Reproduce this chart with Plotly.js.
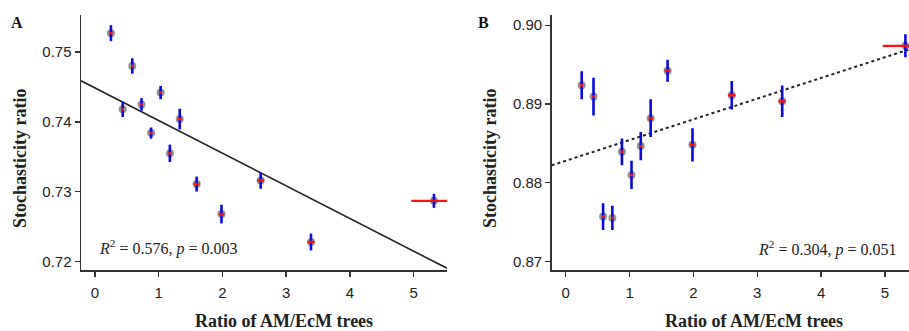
<!DOCTYPE html>
<html>
<head>
<meta charset="utf-8">
<script src="https://cdn.plot.ly/plotly-3.0.1.min.js"></script>
<style>html,body{margin:0;padding:0;background:#fff;}#chart{width:909px;height:331px;}</style>
</head>
<body>
<div id="chart"></div>
<script>
// Shared x values (ratio of AM/EcM trees) and their horizontal errors
const ratio    = [0.25, 0.435, 0.585, 0.73, 0.88, 1.03, 1.175, 1.33, 1.595, 1.985, 2.60, 3.39, 5.32];
const ratioErr = [0.025, 0.02, 0.02, 0.02, 0.02, 0.02, 0.025, 0.035, 0.045, 0.045, 0.055, 0.055, 0.356];

// Panel A
const stochA    = [0.7527, 0.7418, 0.7480, 0.7425, 0.7384, 0.7442, 0.7355, 0.7404, 0.7311, 0.7268, 0.7316, 0.7228, 0.7287];
const stochAErr = [0.00114, 0.0011, 0.0011, 0.0009, 0.0008, 0.00095, 0.00124, 0.00148, 0.00107, 0.00133, 0.00117, 0.0012, 0.001];
const fitA = {intercept: 0.74486, slope: -0.004672};

// Panel B
const stochB    = [0.89237, 0.89094, 0.87569, 0.87552, 0.88392, 0.88098, 0.88464, 0.88819, 0.89423, 0.8848, 0.8911, 0.89034, 0.89738];
const stochBErr = [0.00177, 0.0024, 0.0017, 0.00154, 0.0017, 0.0018, 0.0018, 0.0024, 0.0014, 0.0021, 0.0018, 0.002, 0.00146];
const fitB = {intercept: 0.88278, slope: 0.002631};

const xTicks = [0, 1, 2, 3, 4, 5];
const yTicksA = [0.72, 0.73, 0.74, 0.75];
const yTicksB = [0.87, 0.88, 0.89, 0.90];

const xRangeA = [-0.22, 5.525], yRangeA = [0.7188, 0.7553];
const xRangeB = [-0.22, 5.376], yRangeB = [0.8689, 0.9013];

const grey = 'rgba(105,105,105,0.72)';
const blue = '#0a0adc';
const red = '#ff1010';

function panelTraces(ys, yerr, fit, xr, xa, ya, dash) {
  return [
    {x: [xr[0], xr[1]], y: [fit.intercept + fit.slope * xr[0], fit.intercept + fit.slope * xr[1]],
     mode: 'lines', line: {color: '#222', width: dash ? 2 : 1.6, dash: dash ? '3px,3px' : 'solid'},
     xaxis: xa, yaxis: ya, hoverinfo: 'skip'},
    {x: ratio, y: ys, mode: 'markers', marker: {color: grey, size: 8},
     xaxis: xa, yaxis: ya},
    {x: ratio, y: ys, mode: 'markers', marker: {color: 'rgba(0,0,0,0)', size: 1},
     error_y: {type: 'data', array: yerr, visible: true, color: blue, thickness: 2.6, width: 0},
     xaxis: xa, yaxis: ya},
    {x: ratio, y: ys, mode: 'markers', marker: {color: 'rgba(0,0,0,0)', size: 1},
     error_x: {type: 'data', array: ratioErr, visible: true, color: red, thickness: 2.4, width: 0},
     xaxis: xa, yaxis: ya}
  ];
}

const data = [].concat(
  panelTraces(stochA, stochAErr, fitA, xRangeA, 'x', 'y', false),
  panelTraces(stochB, stochBErr, fitB, xRangeB, 'x2', 'y2', true)
);

const W = 909, H = 331;
const tickFont = {family: 'Liberation Sans, Arial, sans-serif', size: 15, color: '#222'};
function axis(extra) {
  return Object.assign({
    showgrid: false, zeroline: false, showline: true, linecolor: '#333', linewidth: 1.5,
    ticks: 'outside', ticklen: 5, tickwidth: 1.3, tickcolor: '#333',
    tickfont: tickFont, fixedrange: true
  }, extra);
}
const yDom = [(H - 270) / H, (H - 15) / H];

const serif = 'Liberation Serif, Times New Roman, serif';
const layout = {
  width: W, height: H,
  margin: {l: 0, r: 0, t: 0, b: 0},
  paper_bgcolor: '#fff', plot_bgcolor: '#fff',
  showlegend: false,
  xaxis: axis({domain: [81 / W, 447 / W], range: xRangeA, tickvals: xTicks, anchor: 'y', ticklabelstandoff: 3}),
  yaxis: axis({domain: yDom, range: yRangeA, tickvals: yTicksA, tickformat: '.2f', anchor: 'x'}),
  xaxis2: axis({domain: [551.7 / W, 1], range: xRangeB, tickvals: xTicks, anchor: 'y2', ticklabelstandoff: 3}),
  yaxis2: axis({domain: yDom, range: yRangeB, tickvals: yTicksB, tickformat: '.2f', anchor: 'x2'}),
  annotations: [
    {text: '<b>A</b>', x: 17 / W, y: 1 - 22 / H, xref: 'paper', yref: 'paper', showarrow: false,
     font: {family: serif, size: 16, color: '#111'}, xanchor: 'center', yanchor: 'middle'},
    {text: '<b>B</b>', x: 484 / W, y: 1 - 23 / H, xref: 'paper', yref: 'paper', showarrow: false,
     font: {family: serif, size: 16, color: '#111'}, xanchor: 'center', yanchor: 'middle'},
    {text: '<b>Stochasticity ratio</b>', x: 20 / W, y: 1 - 159 / H, xref: 'paper', yref: 'paper', showarrow: false,
     textangle: -90, font: {family: serif, size: 18, color: '#222'}, xanchor: 'center', yanchor: 'middle'},
    {text: '<b>Stochasticity ratio</b>', x: 490 / W, y: 1 - 159 / H, xref: 'paper', yref: 'paper', showarrow: false,
     textangle: -90, font: {family: serif, size: 18, color: '#222'}, xanchor: 'center', yanchor: 'middle'},
    {text: '<b>Ratio of AM/EcM trees</b>', x: 284 / W, y: 1 - 320.5 / H, xref: 'paper', yref: 'paper', showarrow: false,
     font: {family: serif, size: 18, color: '#222'}, xanchor: 'center', yanchor: 'middle'},
    {text: '<b>Ratio of AM/EcM trees</b>', x: 754 / W, y: 1 - 321 / H, xref: 'paper', yref: 'paper', showarrow: false,
     font: {family: serif, size: 18, color: '#222'}, xanchor: 'center', yanchor: 'middle'},
    {text: '<i>R</i><sup>2</sup> = 0.576, <i>p</i> = 0.003', x: 97 / W, y: 1 - 247 / H, xref: 'paper', yref: 'paper',
     showarrow: false, font: {family: serif, size: 16, color: '#222'}, xanchor: 'left', yanchor: 'middle'},
    {text: '<i>R</i><sup>2</sup> = 0.304, <i>p</i> = 0.051', x: 898 / W, y: 1 - 249 / H, xref: 'paper', yref: 'paper',
     showarrow: false, font: {family: serif, size: 16, color: '#222'}, xanchor: 'right', yanchor: 'middle'}
  ]
};

Plotly.newPlot('chart', data, layout, {displayModeBar: false, staticPlot: true});
</script>
</body>
</html>
